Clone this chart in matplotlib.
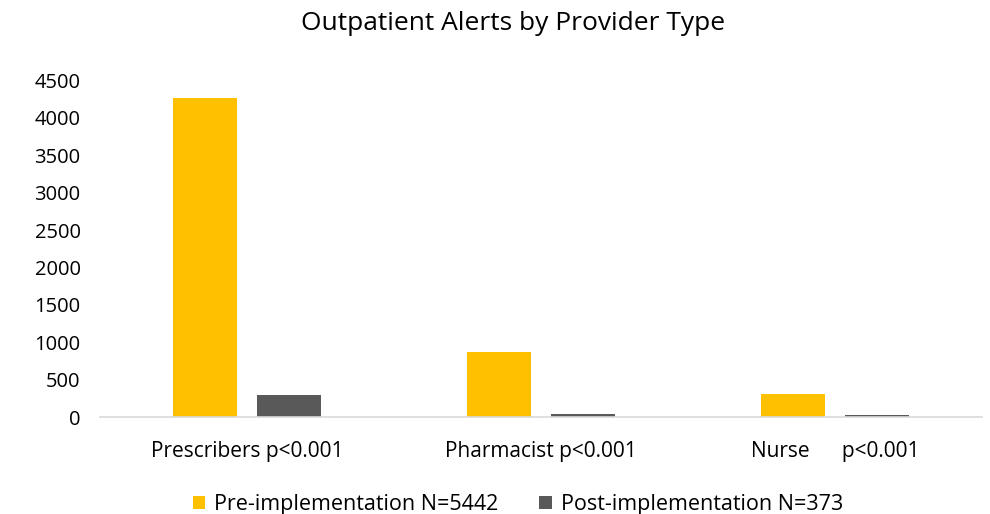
import numpy as np
import matplotlib.pyplot as plt

plt.rcParams['font.family'] = ['Open Sans', 'DejaVu Sans']

categories = ['Prescribers p<0.001', 'Pharmacist p<0.001', 'Nurse      p<0.001']
pre_values = [4260, 872, 310]
post_values = [297, 51, 25]
series_labels = ['Pre-implementation N=5442', 'Post-implementation N=373']

fig = plt.figure(figsize=(9.9, 5.14), dpi=100)
ax = fig.add_axes([0.101, 0.188, 0.891, 0.656])

x = np.arange(len(categories))
w = 0.22
ax.bar(x - 0.143, pre_values, w, color='#FFC000', label=series_labels[0])
ax.bar(x + 0.143, post_values, w, color='#595959', label=series_labels[1])

ax.set_xlim(-0.5, 2.5)
ax.set_ylim(0, 4500)
ax.set_yticks(range(0, 4501, 500))
ax.set_xticks(x)
ax.set_xticklabels(categories, fontsize=15)
ax.tick_params(axis='y', labelsize=14.5, pad=14)
ax.tick_params(axis='both', length=0, colors='#000000')
ax.tick_params(axis='x', pad=17)

for s in ['top', 'right', 'left']:
    ax.spines[s].set_visible(False)
ax.spines['bottom'].set_color('#D9D9D9')
ax.spines['bottom'].set_linewidth(1.2)

fig.text(0.518, 0.955, 'Outpatient Alerts by Provider Type', fontsize=19,
         ha='center', va='center')

fig.legend(loc='lower center', bbox_to_anchor=(0.523, -0.04), ncol=2, frameon=False,
           fontsize=15.5, handlelength=0.6, handleheight=0.6, columnspacing=1.9,
           handletextpad=0.4)

fig.savefig('out.png', dpi=100)
